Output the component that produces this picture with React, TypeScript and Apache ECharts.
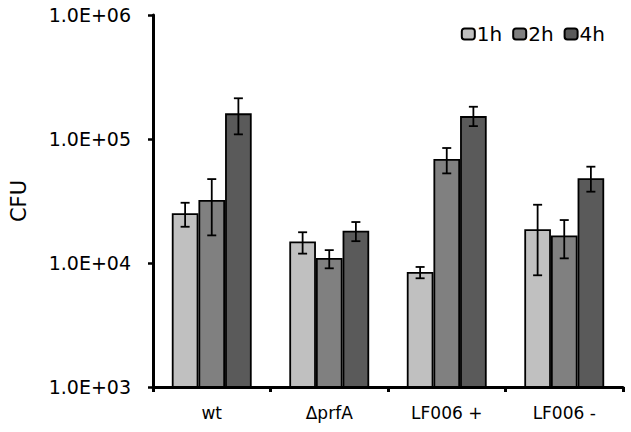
import React, { useEffect, useRef } from "react";
import * as echarts from "echarts";

const categories = ["wt", "ΔprfA", "LF006 +", "LF006 -"];
const seriesNames = ["1h", "2h", "4h"];
const colors = ["#c0c0c0", "#808080", "#5a5a5a"];
const values1h = [25200, 14900, 8450, 18700];
const values2h = [32200, 10960, 69000, 16700];
const values4h = [161000, 18200, 153000, 48200];
const low1h = [19600, 11900, 7530, 7960];
const high1h = [30600, 17700, 9290, 29500];
const low2h = [16700, 9060, 52800, 10900];
const high2h = [47500, 12700, 84600, 22200];
const low4h = [109000, 15000, 127000, 37600];
const high4h = [213000, 21400, 182000, 59800];

const values = [values1h, values2h, values4h];
const lows = [low1h, low2h, low4h];
const highs = [high1h, high2h, high4h];

const FONT = "'DejaVu Sans', 'Liberation Sans', Arial, sans-serif";

export default function App() {
  const ref = useRef<HTMLDivElement>(null);
  useEffect(() => {
    if (!ref.current) return;
    const chart = echarts.init(ref.current, undefined, { renderer: "svg" });
    const barSeries = seriesNames.map((name, i) => ({
      name,
      type: "bar",
      data: values[i],
      barGap: "0%",
      barCategoryGap: "32%",
      itemStyle: { color: colors[i], borderColor: "#000", borderWidth: 1.8 },
      z: 2,
    }));
    const errSeries = seriesNames.map((name, i) => ({
      name: name + " err",
      type: "custom",
      data: categories.map((_, j) => [j, lows[i][j], highs[i][j]]),
      z: 5,
      renderItem: (params: any, api: any) => {
        const idx = api.value(0);
        const lo = api.coord([idx, api.value(1)]);
        const hi = api.coord([idx, api.value(2)]);
        const bandW = api.size([1, 0])[0];
        const barW = (bandW * 0.68) / 3;
        const x = lo[0] + (i - 1) * barW;
        const cap = 4.5;
        const style = { stroke: "#000", lineWidth: 1.8 };
        return {
          type: "group",
          children: [
            { type: "line", shape: { x1: x, y1: hi[1], x2: x, y2: lo[1] }, style },
            { type: "line", shape: { x1: x - cap, y1: hi[1], x2: x + cap, y2: hi[1] }, style },
            { type: "line", shape: { x1: x - cap, y1: lo[1], x2: x + cap, y2: lo[1] }, style },
          ],
        };
      },
    }));
    chart.setOption({
      animation: false,
      backgroundColor: "#fff",
      textStyle: { fontFamily: FONT },
      grid: { left: 150, right: 8, top: 15, bottom: 45, containLabel: false },
      legend: {
        data: seriesNames,
        right: 21,
        top: 19,
        itemWidth: 13,
        itemHeight: 11,
        itemGap: 10,
        textStyle: { fontSize: 20, color: "#000", fontFamily: FONT, padding: [0, 0, 0, -3] },
      },
      xAxis: {
        type: "category",
        data: categories,
        boundaryGap: true,
        axisLine: { lineStyle: { color: "#000", width: 3 } },
        axisTick: { show: true, length: 5, lineStyle: { color: "#000", width: 3 } },
        axisLabel: { color: "#000", fontSize: 17, margin: 17, fontFamily: FONT },
      },
      yAxis: {
        type: "log",
        logBase: 10,
        min: 1000,
        max: 1000000,
        name: "CFU",
        nameLocation: "middle",
        nameGap: 124,
        nameRotate: 90,
        nameTextStyle: { fontSize: 21, color: "#000", fontFamily: FONT },
        axisLine: { show: true, lineStyle: { color: "#000", width: 3 } },
        axisTick: { show: true, length: 5, lineStyle: { color: "#000", width: 2.5 } },
        splitLine: { show: false },
        minorTick: { show: false },
        axisLabel: {
          color: "#000",
          fontSize: 19,
          margin: 22,
          fontFamily: FONT,
          formatter: (v: number) => {
            const e = Math.round(Math.log10(v));
            return "1.0E+" + (e < 10 ? "0" + e : String(e));
          },
        },
      },
      series: [...barSeries, ...errSeries],
    });
    return () => chart.dispose();
  }, []);
  return <div ref={ref} style={{ width: 631, height: 432, position: "absolute", left: 0, top: 0 }} />;
}
